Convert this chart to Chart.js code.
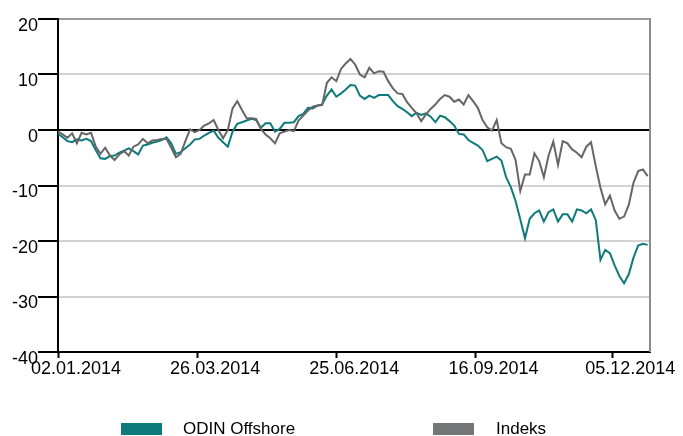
<!DOCTYPE html>
<html>
<head>
<meta charset="utf-8">
<script src="https://cdn.jsdelivr.net/npm/chart.js@4/dist/chart.umd.min.js"></script>
<style>
    body { margin:0; background:#fff; }
    #zone { position:relative; width:683px; height:436px; font-family:"Liberation Sans", Arial, sans-serif; }
    #canvasGraph { position:absolute; left:0; top:0; }
    .carre { position:absolute; top:423px; width:41px; height:12px; }
    .texte { position:absolute; top:419px; font-size:17px; line-height:20px; color:#000; }
</style>
</head>
<body>
<div id="zone">
    <canvas id="canvasGraph" width="683" height="436"></canvas>
    <div class="carre" style="left:121px;background:#0e7a7b;"></div>
    <div class="texte" style="left:183px;">ODIN Offshore</div>
    <div class="carre" style="left:433px;background:#747678;"></div>
    <div class="texte" style="left:496px;">Indeks</div>
</div>
<script>
// Un point tous les 2 jours de bourse (02.01.2014 -> fin 2014)
var pasJours = 2;

// Valeurs ODIN Offshore (%)
var valeursOdin = [
    -0.7, -1.3, -2.0, -2.2, -1.7, -1.9, -1.6, -2.0, -3.6, -5.1,
    -5.2, -4.7, -4.6, -4.1, -3.7, -3.3, -3.8, -4.4, -2.8, -2.6,
    -2.3, -2.1, -1.8, -1.3, -2.4, -4.3, -4.0, -3.3, -2.6, -1.7,
    -1.6, -1.0, -0.5, -0.1, -1.4, -2.2, -3.0, -0.3, 1.1, 1.4,
    1.7, 2.0, 1.8, 0.4, 1.2, 1.2, -0.3, 0.2, 1.3, 1.3,
    1.4, 2.5, 2.9, 4.0, 3.9, 4.4, 4.6, 6.2, 7.3, 6.0,
    6.6, 7.3, 8.1, 8.0, 6.2, 5.6, 6.2, 5.8, 6.3, 6.3,
    6.3, 5.2, 4.3, 3.8, 3.2, 2.5, 3.1, 2.7, 3.0, 2.4,
    1.4, 2.6, 2.3, 1.6, 0.8, -0.7, -0.8, -1.8, -2.3, -2.8,
    -3.6, -5.6, -5.2, -4.8, -5.5, -8.5, -10.3, -12.8, -16.1, -19.5,
    -16.0, -15.0, -14.5, -16.5, -14.8, -14.3, -16.5, -15.2, -15.2, -16.5,
    -14.3, -14.5, -15.0, -14.3, -16.2, -23.4, -21.6, -22.2, -24.4, -26.3,
    -27.6, -26.0, -23.0, -20.8, -20.5, -20.7
];

// Valeurs Indeks (%)
var valeursIndeks = [
    -0.3, -0.8, -1.4, -0.6, -2.4, -0.5, -0.8, -0.5, -3.0, -4.3,
    -3.2, -4.6, -5.4, -4.4, -3.8, -4.6, -3.0, -2.6, -1.6, -2.4,
    -1.9, -1.8, -1.6, -1.6, -3.2, -4.9, -4.3, -2.0, 0.1, -0.4,
    0.0, 0.8, 1.2, 1.8, 0.0, -1.5, 0.0, 3.9, 5.2, 3.6,
    2.1, 2.1, 2.0, 0.2, -0.8, -1.5, -2.4, -0.6, -0.3, 0.0,
    -0.2, 1.7, 2.6, 3.5, 4.2, 4.4, 4.5, 8.5, 9.5, 8.8,
    11.0, 12.0, 12.8, 11.8, 10.0, 9.5, 11.2, 10.2, 10.6, 10.5,
    8.8, 7.5, 6.6, 6.5, 5.0, 4.0, 3.0, 1.6, 2.8, 3.8,
    4.6, 5.6, 6.3, 6.0, 5.1, 5.5, 4.6, 6.3, 5.2, 4.0,
    1.8, 0.5, -0.1, 1.8, -2.4, -3.1, -3.4, -5.4, -11.0, -8.0,
    -8.0, -4.2, -5.6, -8.5, -4.6, -2.1, -6.3, -2.0, -2.4, -3.5,
    -4.1, -4.9, -3.0, -2.2, -6.5, -10.4, -13.4, -11.8, -14.5, -16.0,
    -15.6, -13.5, -9.5, -7.4, -7.1, -8.3
];

// Dates affichées sur l'axe X et leur jour de bourse
var joursEtiquettes = [0, 59, 118, 177, 235];
var etiquettesDates = ["02.01.2014", "26.03.2014", "25.06.2014", "16.09.2014", "05.12.2014"];

// Graduations de l'axe Y
var yMin = -40;
var yMax = 20;
var yPas = 10;

function VersPoints(valeurs)
{
    var points = [];
    for (var i = 0; i < valeurs.length; i++)
    {
        points.push({ x: i * pasJours, y: valeurs[i] });
    }
    return points;
}

// Bordure droite grise du cadre
var bordureDroite = {
    id: 'bordureDroite',
    afterDraw: function(chart)
    {
        var ctx = chart.ctx;
        var a = chart.chartArea;
        ctx.save();
        ctx.strokeStyle = '#8c8c8c';
        ctx.lineWidth = 2;
        ctx.beginPath();
        ctx.moveTo(a.right, a.top - 1);
        ctx.lineTo(a.right, a.bottom);
        ctx.stroke();
        ctx.restore();
    }
};

function DessinerGraphique()
{
    var chartdata = {
        datasets: [
            {
                label: 'ODIN Offshore',
                data: VersPoints(valeursOdin),
                borderColor: '#0e7a7b',
                borderWidth: 2,
                pointRadius: 0,
                order: 2
            },
            {
                label: 'Indeks',
                data: VersPoints(valeursIndeks),
                borderColor: '#666666',
                borderWidth: 2,
                pointRadius: 0,
                order: 1
            }
        ]
    };

    var graph = new Chart(document.getElementById('canvasGraph'), {
        type: 'line',
        data: chartdata,
        plugins: [bordureDroite],
        options: {
            responsive: false,
            animation: false,
            devicePixelRatio: 1,
            layout: { padding: { top: 19, right: 33, left: 0, bottom: 0 } },
            plugins: {
                legend: { display: false },
                tooltip: { enabled: false }
            },
            scales: {
                x: {
                    type: 'linear',
                    min: 0,
                    max: 251,
                    afterBuildTicks: function(axis)
                    {
                        axis.ticks = joursEtiquettes.map(function(j) { return { value: j }; });
                    },
                    afterFit: function(axis) { axis.height = 84; },
                    border: { color: '#000', width: 2 },
                    grid: {
                        drawOnChartArea: false,
                        drawTicks: true,
                        tickLength: 6,
                        tickColor: '#000',
                        tickWidth: 2
                    },
                    ticks: {
                        autoSkip: false,
                        maxRotation: 0,
                        padding: 0,
                        labelOffset: 18,
                        color: '#000',
                        font: { family: 'Liberation Sans', size: 18 },
                        callback: function(v, i) { return etiquettesDates[i]; }
                    }
                },
                y: {
                    min: yMin,
                    max: yMax,
                    afterFit: function(axis) { axis.width = 58; },
                    border: { color: '#000', width: 2 },
                    grid: {
                        color: function(c)
                        {
                            if (c.tick && c.tick.value === 0) return '#000';
                            if (c.tick && c.tick.value === yMax) return '#9a9a9a';
                            return '#d2d2d2';
                        },
                        lineWidth: 2,
                        tickLength: 20,
                        tickColor: '#000',
                        tickWidth: 2
                    },
                    ticks: {
                        stepSize: yPas,
                        padding: 0,
                        labelOffset: 7,
                        color: '#000',
                        font: { family: 'Liberation Sans', size: 18 }
                    }
                }
            }
        }
    });
}

DessinerGraphique();
</script>
</body>
</html>
